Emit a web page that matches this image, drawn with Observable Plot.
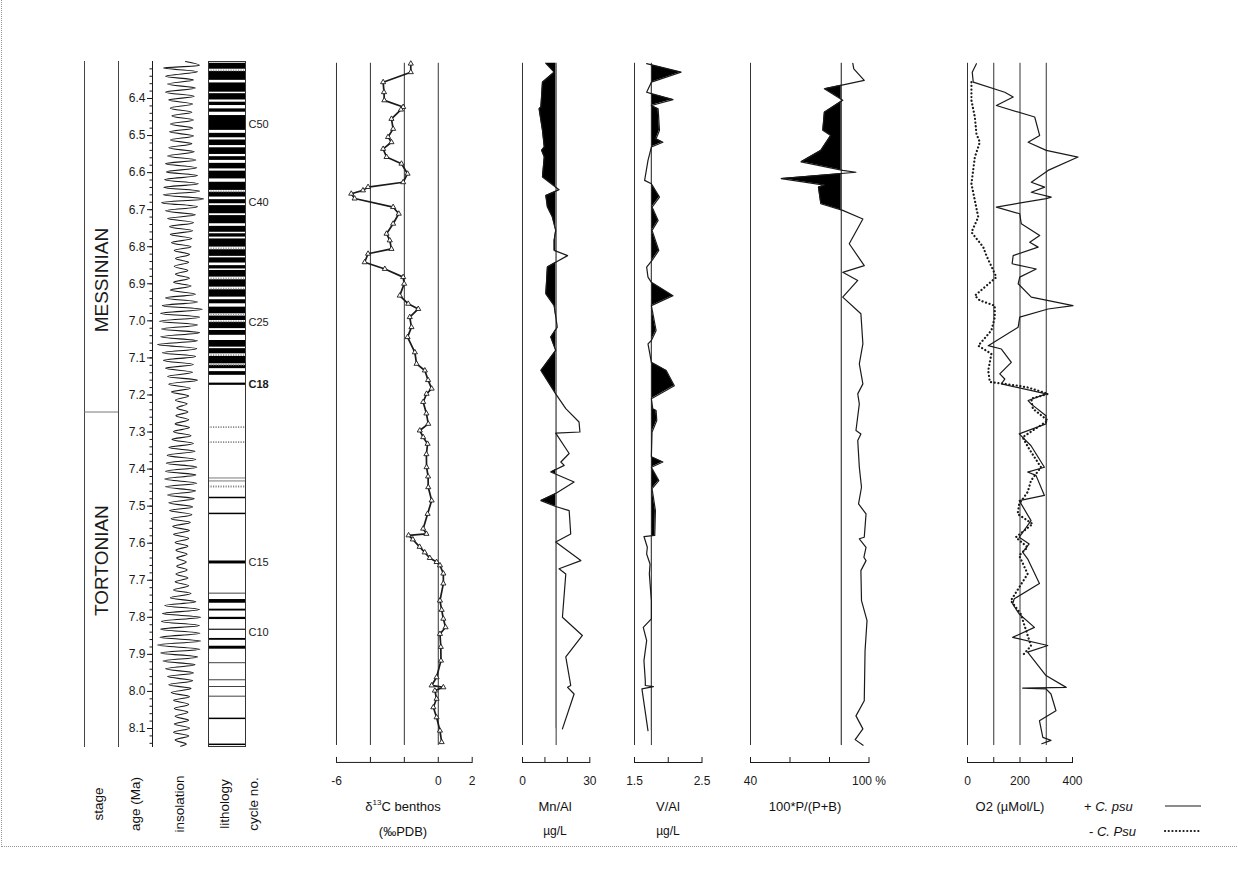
<!DOCTYPE html>
<html><head><meta charset="utf-8">
<script src="https://cdn.jsdelivr.net/npm/d3@7"></script>
<script src="https://cdn.jsdelivr.net/npm/@observablehq/plot@0.6"></script>
<style>
body{margin:0;background:#fff;font-family:Arial,"Liberation Sans",sans-serif;}
#fig{position:relative;width:1238px;height:888px;overflow:hidden;background:#fff}
#fig svg{position:absolute;top:0;overflow:visible}
.lab{position:absolute;font-size:13px;color:#111;white-space:nowrap;transform:translate(-50%,-50%);line-height:1}
.rot{transform:translate(-50%,-50%) rotate(-90deg)}
.left{transform:translate(0,-50%)}
#border{position:absolute;left:1px;top:0;width:1236px;height:847px;border-left:1px dotted #999;border-bottom:1px dotted #999;box-sizing:border-box}
</style></head><body><div id="fig"><div id="border"></div></div>
<script>
// ---------------- data ----------------
const AGE_DOMAIN = [6.3, 8.15];
const AGE_TOP = 6.305, AGE_BOTTOM = 8.146;
const AGE_MAJOR_TICKS = [6.4,6.5,6.6,6.7,6.8,6.9,7.0,7.1,7.2,7.3,7.4,7.5,7.6,7.7,7.8,7.9,8.0,8.1];

const STAGE_BOUNDARY = 7.246;
const STAGES = [{name:"MESSINIAN", age:6.89},{name:"TORTONIAN", age:7.647}];

// insolation [age, W/m2]
const insolation = [
[6.300,470],[6.310,505],[6.318,415],[6.328,500],[6.340,420],[6.350,490],[6.361,425],[6.372,495],[6.383,420],[6.394,492],
[6.404,428],[6.415,488],[6.426,432],[6.437,486],[6.447,436],[6.458,490],[6.469,432],[6.480,488],[6.490,430],[6.501,490],
[6.512,432],[6.522,486],[6.533,428],[6.544,492],[6.555,425],[6.566,496],[6.576,420],[6.587,498],[6.598,422],[6.608,500],
[6.619,418],[6.630,502],[6.640,416],[6.650,505],[6.660,414],[6.671,515],[6.681,410],[6.692,500],[6.703,420],[6.714,495],
[6.724,425],[6.735,490],[6.746,430],[6.757,488],[6.767,432],[6.778,486],[6.789,435],[6.800,484],[6.810,442],[6.821,480],
[6.832,445],[6.842,478],[6.853,442],[6.864,476],[6.874,445],[6.885,480],[6.896,440],[6.906,484],[6.917,432],[6.928,495],
[6.938,420],[6.949,500],[6.959,412],[6.969,512],[6.980,408],[6.990,505],[7.001,405],[7.011,500],[7.022,410],[7.032,505],
[7.043,408],[7.054,500],[7.064,400],[7.075,498],[7.086,412],[7.096,495],[7.107,415],[7.118,490],[7.128,420],[7.139,488],
[7.150,425],[7.160,500],[7.171,428],[7.182,482],[7.192,435],[7.203,478],[7.214,445],[7.224,474],[7.235,448],[7.246,476],
[7.256,446],[7.267,478],[7.278,444],[7.288,480],[7.299,440],[7.310,484],[7.320,436],[7.331,490],[7.342,428],[7.352,494],
[7.363,424],[7.374,496],[7.384,422],[7.395,498],[7.406,420],[7.416,496],[7.427,418],[7.438,498],[7.448,420],[7.459,495],
[7.470,425],[7.480,492],[7.491,428],[7.502,488],[7.512,430],[7.523,486],[7.534,434],[7.544,482],[7.555,438],[7.566,480],
[7.576,440],[7.587,478],[7.598,444],[7.608,476],[7.619,446],[7.630,474],[7.640,448],[7.651,472],[7.662,448],[7.672,474],
[7.683,446],[7.694,476],[7.704,444],[7.715,478],[7.726,440],[7.736,484],[7.747,432],[7.758,496],[7.768,418],[7.779,505],
[7.790,412],[7.800,508],[7.811,410],[7.822,505],[7.832,408],[7.843,506],[7.854,406],[7.864,508],[7.875,400],[7.886,506],
[7.896,408],[7.907,500],[7.918,414],[7.928,494],[7.939,420],[7.950,490],[7.960,425],[7.971,488],[7.982,428],[7.992,484],
[8.003,434],[8.014,480],[8.024,440],[8.035,478],[8.046,442],[8.056,476],[8.067,444],[8.078,478],[8.088,442],[8.099,480],
[8.110,440],[8.120,478],[8.131,444],[8.142,472],[8.148,458]];

// lithology (ages, Ma)
const SAPROPEL_ZONE = [[6.305, 7.147]];
const WHITE_BEDS = [[6.351,6.358],[6.383,6.387],[6.404,6.410],[6.419,6.428],[6.437,6.446],[6.486,6.494],[6.506,6.512],
[6.527,6.533],[6.551,6.557],[6.567,6.575],[6.590,6.596],[6.617,6.626],[6.666,6.673],[6.684,6.689],[6.711,6.716],
[6.738,6.745],[6.761,6.765],[6.774,6.779],[6.826,6.830],[6.844,6.851],[6.860,6.864],[6.936,6.943],[6.954,6.963],
[7.021,7.026],[7.039,7.053],[7.071,7.075],[7.129,7.137]];
const DOTTED_BEDS = [[6.321,6.327],[6.648,6.653],[6.801,6.808],[6.882,6.889],[6.909,6.916],[6.981,6.987],[6.999,7.004],[7.089,7.096],[7.116,7.120]];
const BLACK_BEDS = [[7.168,7.174],[7.476,7.480],[7.519,7.523],[7.648,7.656],[7.735,7.737],[7.752,7.762],[7.778,7.783],
[7.800,7.806],[7.832,7.835],[7.857,7.862],[7.878,7.886],[7.923,7.925],[7.969,7.971],[7.987,7.989],[8.013,8.015],[8.072,8.076],[8.142,8.146]];
const THIN_LINES = [7.424, 7.432];
const DOTTED_LINES = [7.287, 7.327, 7.447];
const CYCLES = [{label:"C50",age:6.47},{label:"C40",age:6.68},{label:"C25",age:7.005},{label:"C15",age:7.652},{label:"C10",age:7.84}];
const CYCLES_BOLD = [{label:"C18",age:7.172}];

// d13C benthos [age, permil]
const d13C = [
[6.306,-1.62],[6.329,-1.62],[6.356,-3.25],[6.383,-3.2],[6.405,-3.18],[6.423,-2.07],[6.43,-2.2],[6.455,-2.76],[6.482,-2.66],
[6.504,-2.96],[6.518,-2.76],[6.536,-3.25],[6.558,-3.05],[6.576,-2.17],[6.603,-1.81],[6.626,-2.07],[6.639,-4.14],[6.648,-4.44],
[6.657,-5.13],[6.67,-4.93],[6.693,-2.66],[6.711,-2.33],[6.738,-2.66],[6.765,-3.05],[6.783,-2.86],[6.806,-2.76],[6.819,-4.14],
[6.842,-4.34],[6.86,-3.15],[6.882,-2.07],[6.9,-2.01],[6.932,-2.27],[6.954,-1.77],[6.968,-1.18],[6.99,-1.68],[7.017,-1.58],
[7.044,-1.81],[7.085,-1.38],[7.116,-1.28],[7.134,-0.79],[7.16,-0.6],[7.183,-0.39],[7.197,-0.69],[7.219,-0.89],[7.25,-0.7],
[7.278,-0.59],[7.296,-1.09],[7.314,-0.89],[7.332,-0.63],[7.36,-0.7],[7.395,-0.69],[7.42,-0.6],[7.449,-0.59],[7.485,-0.39],
[7.521,-0.63],[7.561,-0.89],[7.575,-0.7],[7.579,-1.75],[7.59,-1.5],[7.61,-1.1],[7.625,-0.8],[7.64,-0.5],[7.651,-0.1],[7.66,0.1],
[7.682,0.3],[7.709,0.3],[7.755,0.1],[7.78,0.2],[7.804,0.3],[7.827,0.43],[7.845,0.1],[7.88,0.15],[7.917,0.16],[7.962,-0.1],
[7.984,-0.39],[7.989,0.3],[7.998,-0.2],[8.02,-0.1],[8.043,-0.29],[8.07,-0.1],[8.106,0.1],[8.137,0.2]];

// Mn/Al [age, ug/L]
const MN_REF = 15;
const mnal = [
[6.305,10.4],[6.329,14.1],[6.356,8.9],[6.423,8.2],[6.428,7.4],[6.486,8.9],[6.531,9.7],[6.54,8.5],[6.558,9.7],[6.612,8.9],
[6.646,16.3],[6.662,10.4],[6.693,11.1],[6.72,13.3],[6.756,14.8],[6.783,14.1],[6.81,14.1],[6.824,20.1],[6.842,14.8],[6.855,11.1],
[6.927,10.4],[6.959,14.1],[7.017,15.5],[7.044,12.6],[7.08,14.8],[7.134,8.2],[7.197,14.8],[7.237,19.3],[7.273,25.2],[7.3,25.6],
[7.303,14.8],[7.358,20.8],[7.381,17.1],[7.39,18.6],[7.408,12.6],[7.435,23],[7.466,14.8],[7.485,8.2],[7.501,14.8],[7.512,20.8],
[7.575,21.5],[7.597,14.8],[7.647,26],[7.669,16.3],[7.683,19.3],[7.8,17.8],[7.849,26.7],[7.907,19.3],[7.984,21.5],[7.989,20.1],
[8.007,23],[8.101,17.8]];

// V/Al [age, ug/L]
const V_REF = 1.75;
const val = [
[6.306,1.68],[6.329,2.19],[6.356,1.75],[6.383,1.68],[6.387,1.75],[6.403,2.07],[6.419,1.75],[6.428,1.85],[6.486,1.87],[6.509,1.82],
[6.518,1.92],[6.531,1.75],[6.567,1.70],[6.621,1.65],[6.63,1.75],[6.666,1.87],[6.693,1.76],[6.729,1.85],[6.756,1.76],[6.81,1.86],
[6.837,1.76],[6.855,1.68],[6.882,1.70],[6.896,1.75],[6.932,2.07],[6.959,1.75],[7.026,1.82],[7.053,1.75],[7.062,1.70],[7.112,1.75],
[7.134,1.97],[7.175,2.09],[7.21,1.75],[7.237,1.77],[7.242,1.82],[7.269,1.83],[7.3,1.76],[7.367,1.75],[7.381,1.92],[7.395,1.75],
[7.431,1.86],[7.453,1.76],[7.512,1.81],[7.579,1.80],[7.582,1.64],[7.611,1.69],[7.629,1.68],[7.656,1.73],[7.683,1.72],[7.755,1.75],
[7.804,1.75],[7.827,1.63],[7.863,1.68],[7.917,1.64],[7.971,1.66],[7.984,1.66],[7.987,1.78],[7.993,1.61],[8.106,1.70]];

// 100*P/(P+B) [age, %]
const P_REF = 86;
const pratio = [
[6.305,91.8],[6.32,92.3],[6.351,97.6],[6.374,77.4],[6.405,86.7],[6.437,77.4],[6.486,76.6],[6.5,80.6],[6.54,75.6],[6.571,65.6],
[6.594,86.7],[6.599,93.4],[6.616,55.5],[6.634,77.4],[6.639,74.4],[6.684,75.6],[6.702,86.7],[6.725,96.9],[6.792,90],[6.851,97.6],
[6.869,86.7],[6.891,94.3],[6.936,86.7],[6.981,95.9],[7.062,96.9],[7.116,95.1],[7.17,96.9],[7.197,94.3],[7.224,95.1],[7.296,93.4],
[7.305,95.9],[7.323,94.3],[7.395,95.1],[7.449,96.2],[7.494,94.7],[7.521,98.5],[7.584,97.6],[7.588,95.1],[7.611,98.5],[7.638,97.4],
[7.647,98.5],[7.674,95.9],[7.755,96.2],[7.809,99],[7.89,98],[8.025,97.6],[8.066,93.4],[8.101,96.9],[8.13,93],[8.145,97]];

// O2 (uMol/L) [age, value]
const o2Plus = [
[6.306,34],[6.329,18],[6.356,22],[6.383,142],[6.396,174],[6.419,110],[6.45,256],[6.5,275],[6.518,231],[6.54,300],[6.558,421],
[6.594,307],[6.626,243],[6.639,294],[6.653,243],[6.666,319],[6.67,300],[6.693,110],[6.711,199],[6.738,205],[6.77,275],[6.788,237],
[6.801,269],[6.824,174],[6.846,170],[6.86,262],[6.882,199],[6.9,193],[6.936,243],[6.959,402],[6.968,307],[6.99,199],[7.017,193],
[7.067,79],[7.076,129],[7.112,167],[7.143,123],[7.157,142],[7.17,129],[7.197,300],[7.215,231],[7.224,242],[7.256,299],[7.278,299],
[7.305,197],[7.337,242],[7.395,293],[7.408,229],[7.417,261],[7.471,293],[7.485,197],[7.539,242],[7.584,197],[7.602,235],[7.624,210],
[7.642,229],[7.709,274],[7.75,178],[7.764,172],[7.791,197],[7.827,255],[7.854,172],[7.876,306],[7.894,229],[7.957,299],[7.989,376],
[7.991,210],[7.993,299],[8.007,318],[8.052,337],[8.079,274],[8.124,287],[8.132,318],[8.141,283]];
const o2Minus = [
[6.356,15],[6.405,15],[6.45,28],[6.495,34],[6.518,47],[6.558,28],[6.63,15],[6.72,41],[6.761,15],[6.801,60],[6.824,72],[6.882,110],
[6.932,28],[6.945,47],[6.959,104],[6.99,104],[7.026,91],[7.067,41],[7.089,91],[7.134,79],[7.165,85],[7.17,142],[7.175,193],[7.18,231],
[7.197,307],[7.21,243],[7.237,249],[7.269,306],[7.314,210],[7.346,235],[7.395,280],[7.431,242],[7.462,229],[7.494,197],[7.521,191],
[7.548,248],[7.584,184],[7.611,229],[7.633,197],[7.683,229],[7.755,165],[7.791,203],[7.877,242],[7.903,210]];

// ---------------- drawing ----------------
const fig = document.getElementById("fig");
const FONT = "Arial, 'Liberation Sans', sans-serif";
const Y = {domain: AGE_DOMAIN, range: [60.94, 746.53]};
const INK = "#1a1a1a";
const DOTS = "0.1,3.6";

function panel(x0, x1, padL, padR, domain, withAxis, marks, yAxis = null) {
  const svg = Plot.plot({
    width: (x1 - x0) + padL + padR,
    height: 888,
    marginLeft: padL, marginRight: padR,
    marginTop: 61, marginBottom: withAxis ? 126 : 142,
    x: withAxis ? {domain} : {domain, axis: null},
    y: yAxis ? Y : {...Y, axis: null},
    style: {fontFamily: FONT, fontSize: "12px", background: "transparent", color: INK, overflow: "visible"},
    marks
  });
  svg.style.left = (x0 - padL) + "px";
  fig.appendChild(svg);
}
function grid(vals) { return Plot.ruleX(vals, {y1: AGE_TOP, y2: AGE_BOTTOM, stroke: "#333", strokeWidth: 1}); }
function axis(ticks, labels) {
  return [
    Plot.frame({anchor: "bottom", stroke: INK}),
    Plot.axisX({ticks, tickSize: -5, tickPadding: 19, fontSize: 12, stroke: INK, fill: INK,
      tickFormat: d => (labels[d] !== undefined ? labels[d] : "")})
  ];
}

// stage column
panel(84, 118, 2, 2, [0, 1], false, [
  Plot.frame({anchor: "left", stroke: "#444"}),
  Plot.frame({anchor: "right", stroke: "#444"}),
  Plot.ruleY([STAGE_BOUNDARY], {stroke: "#777"}),
  Plot.text(STAGES, {y: "age", text: "name", rotate: -90, fontSize: 19, frameAnchor: "middle", fill: INK})
]);

// age axis
panel(152, 154, 34, 2, [0, 1], false, [
  Plot.frame({anchor: "left", stroke: INK}),
  Plot.axisY({anchor: "left", ticks: AGE_MAJOR_TICKS, tickSize: 5, tickPadding: 2, fontSize: 12,
    tickFormat: d3.format(".1f"), stroke: INK, fill: INK}),
  Plot.axisY({anchor: "left", ticks: d3.range(6.32, 8.15, 0.02), tickSize: 2.5, tickFormat: () => "", stroke: INK})
], true);

// insolation
panel(157, 205, 4, 4, [400, 520], false, [
  Plot.line(insolation, {x: d => d[1], y: d => d[0], stroke: INK, strokeWidth: 1.1, curve: "catmull-rom"})
]);

// lithology + cycle numbers
panel(208, 245, 2, 34, [0, 1], false, [
  Plot.rect(SAPROPEL_ZONE, {y1: d => d[0], y2: d => d[1], fill: "black"}),
  Plot.rect(WHITE_BEDS, {y1: d => d[0], y2: d => d[1], fill: "white"}),
  Plot.rect(DOTTED_BEDS, {y1: d => d[0], y2: d => d[1], fill: "white"}),
  Plot.ruleY(DOTTED_BEDS, {y: d => (d[0] + d[1]) / 2, stroke: "#999", strokeWidth: 1.6, strokeDasharray: "1.2,1.3"}),
  Plot.rect(BLACK_BEDS, {y1: d => d[0], y2: d => d[1], fill: "black"}),
  Plot.ruleY(THIN_LINES, {stroke: "#555", strokeWidth: 0.8}),
  Plot.ruleY(DOTTED_LINES, {stroke: "#888", strokeWidth: 1.8, strokeDasharray: "1.2,1.3"}),
  Plot.frame({stroke: "#333"}),
  Plot.text(CYCLES, {y: "age", text: "label", frameAnchor: "right", dx: 3, textAnchor: "start", fontSize: 11, fill: INK}),
  Plot.text(CYCLES_BOLD, {y: "age", text: "label", frameAnchor: "right", dx: 3, textAnchor: "start", fontSize: 11, fontWeight: "bold", fill: INK})
]);

// d13C
panel(336, 471.7, 16, 16, [-6, 2], true, [
  grid([-6, -4, -2, 0]),
  Plot.line(d13C, {x: d => d[1], y: d => d[0], stroke: INK, strokeWidth: 1.7}),
  Plot.dot(d13C, {x: d => d[1], y: d => d[0], symbol: "triangle", r: 1.9, stroke: INK, strokeWidth: 0.9, fill: "white"}),
  ...axis([-6, -4, -2, 0, 2], {"-6": "-6", "0": "0", "2": "2"})
]);

// Mn/Al
panel(521.7, 589, 12, 12, [0, 30], true, [
  Plot.areaX(mnal, {y: d => d[0], x1: MN_REF, x2: d => d[1], fill: "black"}),
  Plot.rect([MN_REF], {x1: d => d, x2: 34, y1: AGE_TOP - 0.01, y2: AGE_BOTTOM + 0.01, fill: "white"}),
  grid([0, MN_REF]),
  Plot.line(mnal, {x: d => d[1], y: d => d[0], stroke: INK, strokeWidth: 1.2}),
  ...axis([0, 10, 20, 30], {"0": "0", "30": "30"})
]);

// V/Al
panel(633.5, 701, 12, 12, [1.5, 2.5], true, [
  Plot.areaX(val, {y: d => d[0], x1: V_REF, x2: d => d[1], fill: "black"}),
  Plot.rect([V_REF], {x1: 1.4, x2: d => d, y1: AGE_TOP - 0.01, y2: AGE_BOTTOM + 0.01, fill: "white"}),
  grid([1.5, V_REF]),
  Plot.line(val, {x: d => d[1], y: d => d[0], stroke: INK, strokeWidth: 1.2}),
  ...axis([1.5, 2.0, 2.5], {"1.5": "1.5", "2.5": "2.5"})
]);

// 100*P/(P+B)
panel(749.5, 868, 12, 22, [40, 100], true, [
  Plot.areaX(pratio, {y: d => d[0], x1: P_REF, x2: d => d[1], fill: "black"}),
  Plot.rect([P_REF], {x1: d => d, x2: 104, y1: AGE_TOP - 0.01, y2: AGE_BOTTOM + 0.01, fill: "white"}),
  grid([40, P_REF]),
  Plot.line(pratio, {x: d => d[1], y: d => d[0], stroke: INK, strokeWidth: 1.2}),
  ...axis([40, 60, 80, 100], {"40": "40", "100": "100 %"})
]);

// O2
panel(966.5, 1071.5, 12, 12, [0, 400], true, [
  grid([0, 100, 200, 300]),
  Plot.line(o2Minus, {x: d => d[1], y: d => d[0], stroke: INK, strokeWidth: 2.2, strokeDasharray: DOTS, strokeLinecap: "round"}),
  Plot.line(o2Plus, {x: d => d[1], y: d => d[0], stroke: INK, strokeWidth: 1.2}),
  ...axis([0, 100, 200, 300, 400], {"0": "0", "200": "200", "400": "400"})
]);

// ---------------- labels ----------------
function label(html, x, y, cls = "", size = 13) {
  const d = document.createElement("div");
  d.className = "lab " + cls;
  d.style.left = x + "px"; d.style.top = y + "px"; d.style.fontSize = size + "px";
  d.innerHTML = html;
  fig.appendChild(d);
}
const ROT_LABELS = [["stage", 99], ["age (Ma)", 136], ["insolation", 180], ["lithology", 225], ["cycle no.", 254]];
ROT_LABELS.forEach(([t, x]) => label(t, x, 804, "rot", 13.5));
label("δ<sup style='font-size:8px'>13</sup>C benthos", 403, 806);
label("(‰PDB)", 403, 831);
label("Mn/Al", 555, 806);
label("µg/L", 555, 831, "", 12);
label("V/Al", 668, 806);
label("µg/L", 668, 831, "", 12);
label("100*P/(P+B)", 805, 806);
label("O2 (µMol/L)", 1010, 806);
label("+ <i>C. psu</i>", 1084, 806, "left");
label("- <i>C. Psu</i>", 1089, 831, "left");
// legend line samples
const leg = d3.select(fig).append("svg").attr("width", 50).attr("height", 40)
  .style("left", "1160px").style("top", "796px");
leg.append("line").attr("x1", 5).attr("x2", 41).attr("y1", 10).attr("y2", 10).attr("stroke", INK).attr("stroke-width", 1.2);
leg.append("line").attr("x1", 5).attr("x2", 41).attr("y1", 35).attr("y2", 35).attr("stroke", INK).attr("stroke-width", 2.2)
  .attr("stroke-dasharray", DOTS).attr("stroke-linecap", "round");
</script></body></html>
